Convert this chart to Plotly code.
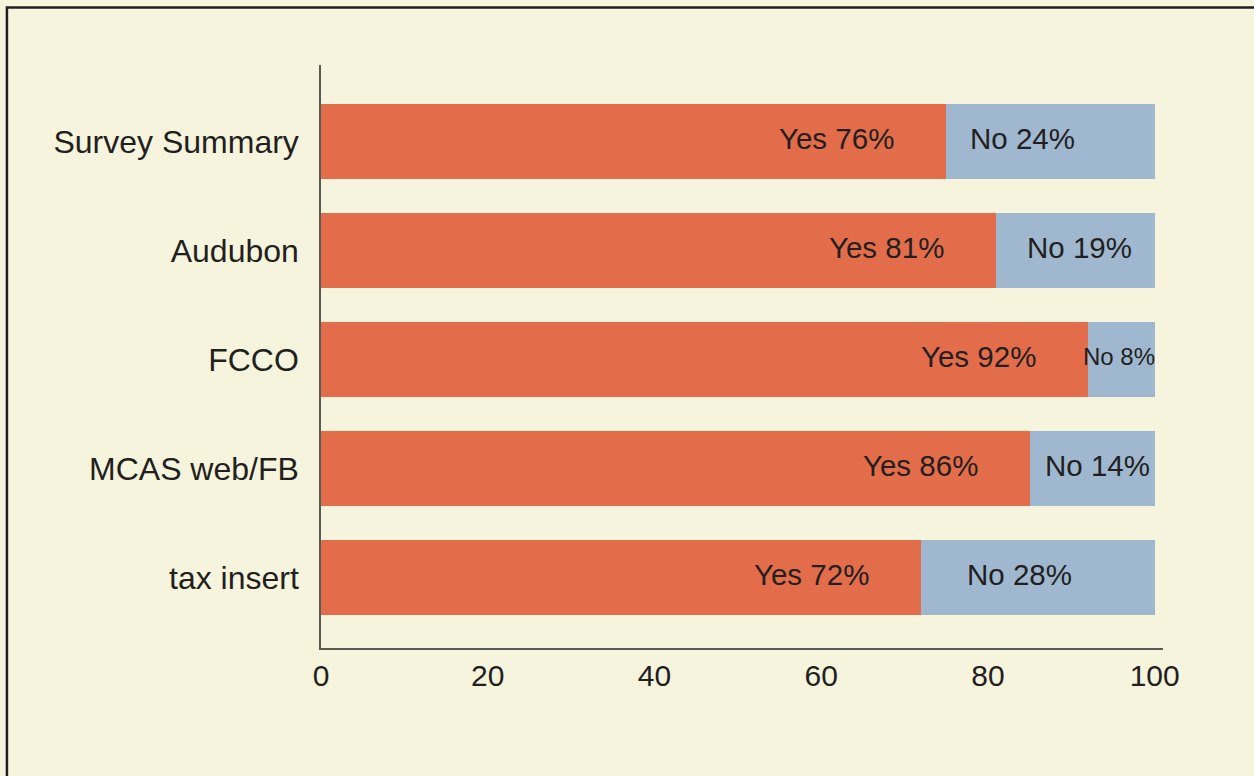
import plotly.graph_objects as go

categories = ["Survey Summary", "Audubon", "FCCO", "MCAS web/FB", "tax insert"]
yes_values = [75, 81, 92, 85, 72]
no_values = [25, 19, 8, 15, 28]
yes_labels = ["Yes 76%", "Yes 81%", "Yes 92%", "Yes 86%", "Yes 72%"]
no_labels = ["No 24%", "No 19%", "No 8%", "No 14%", "No 28%"]
x_ticks = [0, 20, 40, 60, 80, 100]

ORANGE = "#e36d4b"
BLUE = "#9fb8d0"
BG = "#f7f4de"
INK = "#231f20"
FONT = "Liberation Sans, Arial, sans-serif"

fig = go.Figure()
fig.add_trace(go.Bar(y=categories, x=yes_values, orientation="h",
                     marker=dict(color=ORANGE, line=dict(width=0)), hoverinfo="skip"))
fig.add_trace(go.Bar(y=categories, x=no_values, orientation="h",
                     marker=dict(color=BLUE, line=dict(width=0)), hoverinfo="skip"))

# label placement tweaks (pixels) to match the original layout
no_shift = [-28, 4, -2, 5, -18]
for i, cat in enumerate(categories):
    fig.add_annotation(x=yes_values[i], y=cat, text=yes_labels[i], showarrow=False,
                       xanchor="right", xshift=-50, yshift=3,
                       font=dict(family=FONT, size=29.5, color=INK))
    size = 24 if no_values[i] < 10 else 29.5
    fig.add_annotation(x=yes_values[i] + no_values[i] / 2, y=cat, text=no_labels[i],
                       showarrow=False, xanchor="center", xshift=no_shift[i], yshift=3,
                       font=dict(family=FONT, size=size, color=INK))

# outer frame
fig.add_shape(type="rect", xref="paper", yref="paper", x0=-0.373, x1=1.3,
              y0=-0.4, y1=1.0986, line=dict(color=INK, width=2.5), layer="below")

fig.update_layout(
    barmode="stack",
    bargap=0.31,
    showlegend=False,
    width=1254, height=776,
    margin=dict(l=321, r=91, t=65, b=128),
    paper_bgcolor=BG, plot_bgcolor=BG,
    font=dict(family=FONT, size=30, color=INK),
)
fig.update_xaxes(range=[0, 101], tickvals=x_ticks, showgrid=False, zeroline=False,
                 showline=True, linecolor="#5a5a55", linewidth=1.5,
                 ticks="", ticklabelstandoff=0, tickfont=dict(size=30, color=INK))
fig.update_yaxes(categoryorder="array", categoryarray=categories[::-1],
                 range=[-0.647, 4.70], showgrid=False, zeroline=False,
                 showline=True, linecolor="#5a5a55", linewidth=1.5,
                 ticks="", ticklabelstandoff=14, tickfont=dict(size=32, color=INK))

# drop the default page margin so the figure fills the window
fig.write_html("out.html",
               config={"displayModeBar": False},
               post_script="document.body.style.margin='0';"
                           "document.body.style.overflow='hidden';"
                           "document.body.style.background='" + BG + "';")
